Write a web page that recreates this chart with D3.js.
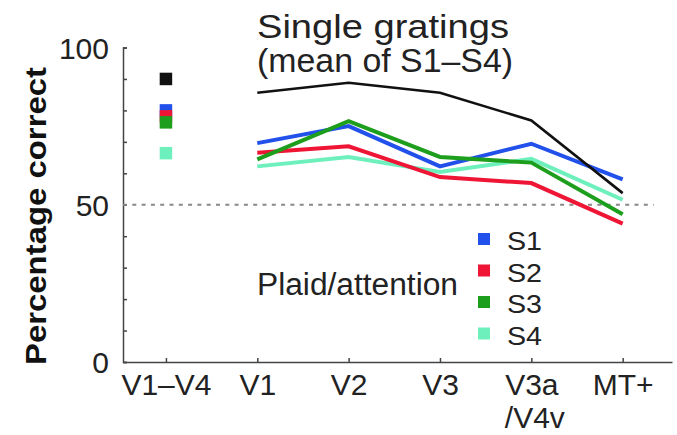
<!DOCTYPE html>
<html>
<head>
<meta charset="utf-8">
<script src="https://cdn.jsdelivr.net/npm/d3@7"></script>
<style>
  html, body { margin: 0; padding: 0; background: #fff; }
  svg { display: block; font-family: "Liberation Sans", Arial, Helvetica, sans-serif; }
</style>
</head>
<body>
<svg id="chart" width="677" height="435"></svg>
<script>
// ---- data ----
const categories = ["V1–V4", "V1", "V2", "V3", "V3a/V4v", "MT+"];
const lineAreas = ["V1", "V2", "V3", "V3a/V4v", "MT+"];
const singleGratings = [85.6, 88.8, 85.6, 76.8, 53.7];
const subjects = ["S1", "S2", "S3", "S4"];
const subjectColors = ["#2150ea", "#ee1535", "#1d9e1d", "#6ef0bd"];
const s1 = [69.6, 75.0, 62.2, 69.4, 58.1];
const s2 = [66.5, 68.6, 58.8, 56.9, 44.0];
const s3 = [64.4, 76.6, 65.2, 63.4, 47.0];
const s4 = [62.2, 65.2, 60.4, 64.6, 51.6];
const combinedV1V4 = [80.0, 78.1, 76.2, 66.4];   // S1..S4 at V1–V4
const combinedSingle = 90.0;                     // single gratings at V1–V4
const yTicks = [0, 10, 20, 30, 40, 50, 60, 70, 80, 90, 100];
const yLabels = [0, 50, 100];
const chance = 50;

const svg = d3.select("#chart");
const x = d3.scaleLinear().domain([-0.47, 5.54]).range([123, 672]);
const y = d3.scaleLinear().domain([0, 100]).range([362, 47.5]);
const xi = name => x(categories.indexOf(name));

// ---- axes ----
const yAxis = d3.axisLeft(y)
  .tickValues(yTicks)
  .tickSizeInner(-4)
  .tickSizeOuter(-4)
  .tickPadding(14)
  .tickFormat(d => yLabels.includes(d) ? d : "");
const gy = svg.append("g").attr("transform", "translate(123,0)").call(yAxis);
gy.selectAll("path,line").attr("stroke", "#444").attr("stroke-width", 1.5);
gy.selectAll("text").attr("font-size", 30).attr("fill", "#222")
  .attr("font-family", "'Liberation Sans', Arial, sans-serif")
  .attr("dy", null).attr("y", 10.5);

const xAxis = d3.axisBottom(x)
  .tickValues(d3.range(categories.length))
  .tickSizeInner(-4)
  .tickSizeOuter(0)
  .tickPadding(0)
  .tickFormat(i => categories[i]);
const gx = svg.append("g").attr("transform", "translate(0,362)").call(xAxis);
gx.selectAll("path,line").attr("stroke", "#444").attr("stroke-width", 1.5);
gx.selectAll("text").attr("font-size", 30).attr("fill", "#222")
  .attr("font-family", "'Liberation Sans', Arial, sans-serif")
  .attr("dy", null).attr("y", 33)
  .each(function(i) {
    const parts = categories[i].split("/");
    if (parts.length > 1) {
      const t = d3.select(this).text(null);
      t.append("tspan").attr("x", 0).text(parts[0]);
      t.append("tspan").attr("x", 3).attr("dy", 33).text("/" + parts[1]);
    }
  });

// ---- chance line ----
svg.append("line")
  .attr("x1", x(-0.47)).attr("x2", x(5.34))
  .attr("y1", y(chance)).attr("y2", y(chance))
  .attr("stroke", "#888").attr("stroke-width", 2)
  .attr("stroke-dasharray", "4,5.3");

// ---- lines ----
const line = d3.line().x((d, i) => xi(lineAreas[i])).y(d => y(d));
const series = [
  { vals: s4, color: subjectColors[3] },
  { vals: s2, color: subjectColors[1] },
  { vals: s1, color: subjectColors[0] },
  { vals: s3, color: subjectColors[2] }
];
svg.append("g").selectAll("path").data(series).join("path")
  .attr("d", d => line(d.vals))
  .attr("fill", "none")
  .attr("stroke", d => d.color)
  .attr("stroke-width", 4)
  .attr("stroke-linejoin", "miter");
svg.append("path")
  .attr("d", line(singleGratings))
  .attr("fill", "none").attr("stroke", "#111").attr("stroke-width", 2.6);

// ---- V1–V4 squares ----
const sq = 12.5;
const cx = xi("V1–V4");
svg.append("rect").attr("x", cx - sq / 2).attr("y", y(combinedSingle) - sq / 2)
  .attr("width", sq).attr("height", sq).attr("fill", "#111");
svg.append("g").selectAll("rect").data(combinedV1V4).join("rect")
  .attr("x", cx - sq / 2).attr("y", d => y(d) - sq / 2)
  .attr("width", sq).attr("height", sq)
  .attr("fill", (d, i) => subjectColors[i]);

// ---- legend ----
const lg = svg.append("g");
subjects.forEach((s, i) => {
  const by = 250 + i * 31.5;
  lg.append("rect").attr("x", 478).attr("y", by - 17).attr("width", 12).attr("height", 12)
    .attr("fill", subjectColors[i]);
  lg.append("text").attr("x", 507).attr("y", by).attr("font-size", 26).attr("fill", "#222")
    .attr("textLength", 35).attr("lengthAdjust", "spacingAndGlyphs").text(s);
});

// ---- annotations ----
svg.append("text").attr("x", 257).attr("y", 295).attr("font-size", 31).attr("fill", "#222")
  .attr("textLength", 201).attr("lengthAdjust", "spacingAndGlyphs").text("Plaid/attention");
svg.append("text").attr("x", 257).attr("y", 38).attr("font-size", 33).attr("fill", "#222")
  .attr("textLength", 252).attr("lengthAdjust", "spacingAndGlyphs").text("Single gratings");
svg.append("text").attr("x", 257).attr("y", 72).attr("font-size", 33).attr("fill", "#222")
  .attr("textLength", 256).attr("lengthAdjust", "spacingAndGlyphs").text("(mean of S1–S4)");

// ---- y label ----
svg.append("text")
  .attr("transform", "translate(46,216) rotate(-90)")
  .attr("text-anchor", "middle")
  .attr("font-size", 29).attr("font-weight", "bold").attr("fill", "#111")
  .attr("textLength", 298).attr("lengthAdjust", "spacingAndGlyphs")
  .text("Percentage correct");
</script>
</body>
</html>
